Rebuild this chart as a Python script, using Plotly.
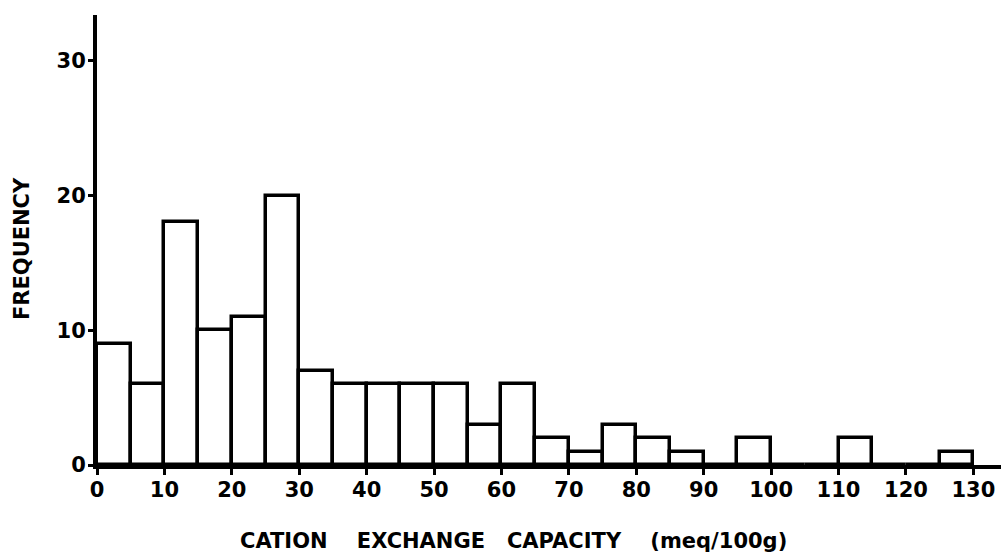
import plotly.graph_objects as go

# Histogram of cation exchange capacity, 5 meq/100g bins
bin_width = 5
bin_left = list(range(0, 130, bin_width))
counts = [9, 6, 18, 10, 11, 20, 7, 6, 6, 6, 6, 3, 6, 2, 1, 3, 2, 1, 0, 2, 0, 0, 2, 0, 0, 1]

x_ticks = list(range(0, 131, 10))
y_ticks = [0, 10, 20, 30]

bin_centers = [b + bin_width / 2 for b in bin_left]

W, H = 1001, 558
M_L, M_R, M_T, M_B = 97, 0, 15, 93

tick_font = dict(family="DejaVu Sans", size=21, color="black", weight="bold")
title_font = dict(family="DejaVu Sans", size=21, color="black", weight="bold")

fig = go.Figure(
    go.Bar(
        x=bin_centers,
        y=counts,
        width=bin_width,
        marker=dict(color="white", line=dict(color="black", width=3.5)),
        hoverinfo="x+y",
    )
)

fig.update_layout(
    width=W,
    height=H,
    margin=dict(l=M_L, r=M_R, t=M_T, b=M_B, pad=0),
    paper_bgcolor="white",
    plot_bgcolor="white",
    showlegend=False,
    bargap=0,
    font=tick_font,
    xaxis=dict(
        range=[0, 134.1],
        tickvals=x_ticks,
        ticktext=[str(v) for v in x_ticks],
        ticks="outside",
        ticklen=6,
        tickwidth=2.5,
        tickcolor="black",
        ticklabelstandoff=-3,
        showline=True,
        linecolor="black",
        linewidth=3.5,
        showgrid=False,
        zeroline=False,
        tickfont=tick_font,
        fixedrange=True,
    ),
    yaxis=dict(
        range=[0, 33.4],
        tickvals=y_ticks,
        ticktext=[str(v) for v in y_ticks],
        ticks="outside",
        ticklen=5,
        tickwidth=2.5,
        tickcolor="black",
        ticklabelstandoff=-2,
        showline=True,
        linecolor="black",
        linewidth=4,
        showgrid=False,
        zeroline=False,
        tickfont=tick_font,
        fixedrange=True,
    ),
    annotations=[
        dict(
            text="CATION&nbsp;&nbsp;&nbsp;&nbsp;EXCHANGE&nbsp;&nbsp;&nbsp;CAPACITY&nbsp;&nbsp;&nbsp;&nbsp;(meq/100g)",
            xref="paper", yref="paper",
            x=0.461, y=-0.169,
            xanchor="center", yanchor="middle",
            showarrow=False,
            font=title_font,
        ),
        dict(
            text="FREQUENCY",
            xref="paper", yref="paper",
            x=-0.083, y=0.482,
            xanchor="center", yanchor="middle",
            textangle=-90,
            showarrow=False,
            font=title_font,
        ),
    ],
)

fig.write_html("out.html")
